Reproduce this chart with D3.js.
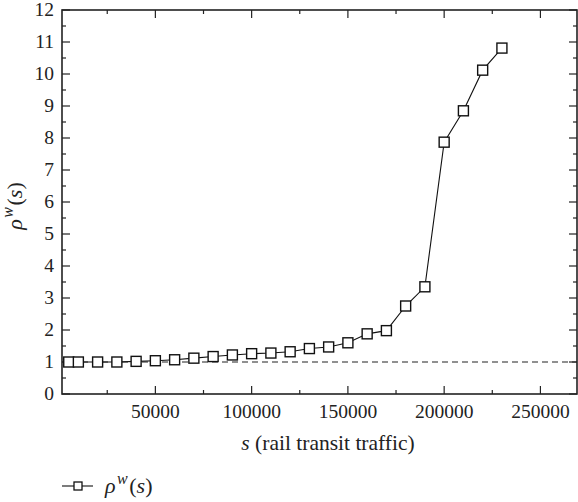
<!DOCTYPE html>
<html><head><meta charset="utf-8">
<script src="https://cdn.jsdelivr.net/npm/d3@7"></script>
<style>body{margin:0;background:#fff}svg{display:block}</style>
</head><body><svg id="c" width="578" height="502"></svg>
<script>
const sValues = [5000,10000,20000,30000,40000,50000,60000,70000,80000,90000,100000,110000,120000,130000,140000,150000,160000,170000,180000,190000,200000,210000,220000,230000];
const rhoValues = [1.0,1.0,1.0,1.0,1.02,1.04,1.07,1.12,1.17,1.22,1.26,1.28,1.32,1.42,1.47,1.6,1.88,1.98,2.75,3.35,7.87,8.85,10.12,10.81];
const xTicks = [50000,100000,150000,200000,250000];
const yTicks = [0,1,2,3,4,5,6,7,8,9,10,11,12];
const refLine = 1;

const FONT = "Liberation Serif";
const svg = d3.select("#c");
const L=62,R=577,T=10,B=394;
const x = d3.scaleLinear().domain([1500,269000]).range([L,R]);
const y = d3.scaleLinear().domain([0,12]).range([B,T]);
const ax = "#222";

// minor and major ticks (inward, all four sides)
const xMinor = d3.range(25000,269000,25000);
const yMinor = d3.range(0.5,12,1);
const g = svg.append("g").attr("stroke",ax);
xMinor.forEach(v=>{
  const len = (v%50000===0)?8:4;
  g.append("line").attr("x1",x(v)).attr("x2",x(v)).attr("y1",B).attr("y2",B-len).attr("stroke-width",1.2);
  g.append("line").attr("x1",x(v)).attr("x2",x(v)).attr("y1",T).attr("y2",T+len).attr("stroke-width",1.2);
});
yTicks.concat(yMinor).forEach(v=>{
  const len = Number.isInteger(v)?8:4;
  g.append("line").attr("y1",y(v)).attr("y2",y(v)).attr("x1",L).attr("x2",L+len).attr("stroke-width",1.2);
  g.append("line").attr("y1",y(v)).attr("y2",y(v)).attr("x1",R).attr("x2",R-len).attr("stroke-width",1.2);
});

// frame
svg.append("rect").attr("x",L).attr("y",T).attr("width",R-L).attr("height",B-T)
  .attr("fill","none").attr("stroke",ax).attr("stroke-width",1.6);

// tick labels
svg.append("g").selectAll("text").data(xTicks).join("text")
  .attr("font-family",FONT).attr("fill","#222")
  .attr("x",d=>x(d)).attr("y",B+24).attr("text-anchor","middle").attr("font-size",19.5).text(d=>d);
svg.append("g").selectAll("text").data(yTicks).join("text")
  .attr("font-family",FONT).attr("fill","#222")
  .attr("x",L-8).attr("y",d=>y(d)+6).attr("text-anchor","end").attr("font-size",19.5).text(d=>d);

// reference dashed line
svg.append("line").attr("x1",L).attr("x2",R).attr("y1",y(refLine)).attr("y2",y(refLine))
  .attr("stroke","#222").attr("stroke-width",1.2).attr("stroke-dasharray","6,4");

// data line
const pts = sValues.map((s,i)=>[s,rhoValues[i]]);
svg.append("path").datum(pts).attr("fill","none").attr("stroke","#111").attr("stroke-width",1.1)
  .attr("d",d3.line().x(d=>x(d[0])).y(d=>y(d[1])));
svg.append("g").selectAll("rect").data(pts).join("rect")
  .attr("x",d=>x(d[0])-5).attr("y",d=>y(d[1])-5).attr("width",10).attr("height",10)
  .attr("fill","#fff").attr("stroke","#111").attr("stroke-width",1.4);

// axis titles
const xl = svg.append("text").attr("font-family",FONT).attr("fill","#222")
  .attr("x",328).attr("y",450).attr("text-anchor","middle").attr("font-size",21.5);
xl.append("tspan").attr("font-style","italic").text("s");
xl.append("tspan").text(" (rail transit traffic)");

function rhoLabel(t){
  t.append("tspan").attr("font-style","italic").text("ρ");
  t.append("tspan").attr("font-style","italic").attr("font-size",16).attr("dx",1.5).attr("dy",-9).text("w");
  t.append("tspan").attr("dy",9).attr("dx",1.5).text("(");
  t.append("tspan").attr("font-style","italic").text("s");
  t.append("tspan").text(")");
}
const yl = svg.append("text").attr("font-family",FONT).attr("fill","#222")
  .attr("transform","translate(22,206) rotate(-90)").attr("text-anchor","middle").attr("font-size",22);
rhoLabel(yl);

// legend
const ly = 486;
svg.append("line").attr("x1",62).attr("x2",93).attr("y1",ly).attr("y2",ly).attr("stroke","#111").attr("stroke-width",1.1);
svg.append("rect").attr("x",78-4).attr("y",ly-4).attr("width",8).attr("height",8).attr("fill","#fff").attr("stroke","#111").attr("stroke-width",1.3);
const lt = svg.append("text").attr("font-family",FONT).attr("fill","#222")
  .attr("x",105).attr("y",493).attr("font-size",22);
rhoLabel(lt);
</script></body></html>
